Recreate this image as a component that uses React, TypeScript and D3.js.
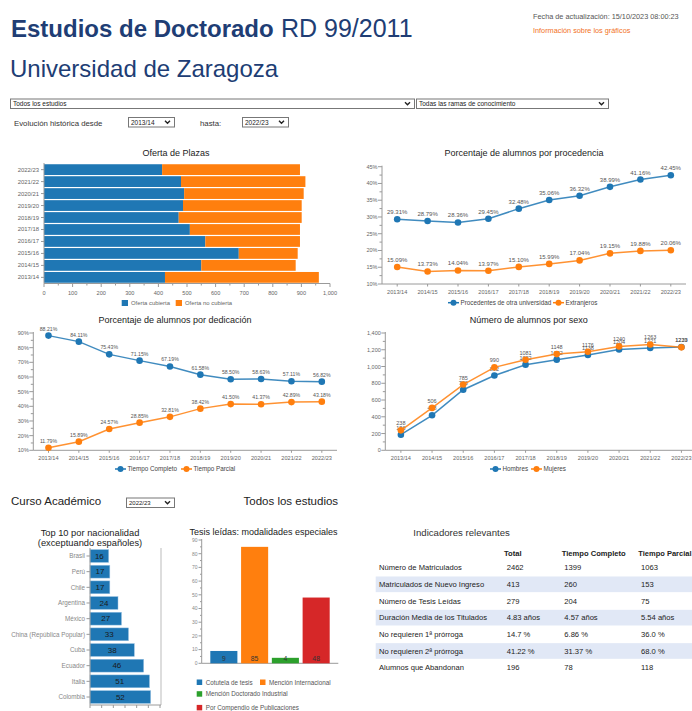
import React from 'react';
import * as d3 from 'd3';

// ---- data ----
const years = ['2013/14', '2014/15', '2015/16', '2016/17', '2017/18', '2018/19', '2019/20', '2020/21', '2021/22', '2022/23'];
const ofertaCubierta = [423, 550, 681, 564, 510, 471, 486, 490, 479, 413];
const ofertaTotal = [961, 880, 887, 895, 895, 901, 901, 908, 914, 895];
const otraUniversidad = [29.31, 28.79, 28.36, 29.45, 32.48, 35.06, 36.32, 38.99, 41.16, 42.45];
const extranjeros = [15.09, 13.73, 14.04, 13.97, 15.1, 15.99, 17.04, 19.15, 19.88, 20.06];
const tiempoCompleto = [88.21, 84.11, 75.43, 71.15, 67.19, 61.58, 58.5, 58.63, 57.11, 56.82];
const tiempoParcial = [11.79, 15.89, 24.57, 28.85, 32.81, 38.42, 41.5, 41.37, 42.89, 43.18];
const hombres = [186, 418, 723, 892, 1022, 1082, 1138, 1204, 1221, 1233];
const mujeres = [238, 506, 785, 990, 1081, 1148, 1176, 1240, 1263, 1229];
const paises = ['Brasil', 'Perú', 'Chile', 'Argentina', 'México', 'China (República Popular)', 'Cuba', 'Ecuador', 'Italia', 'Colombia'];
const paisAlumnos = [16, 17, 17, 24, 27, 33, 38, 46, 51, 52];
const modalidades = ['Cotutela de tesis', 'Mención Internacional', 'Mención Doctorado Industrial', 'Por Compendio de Publicaciones'];
const modalidadTesis = [9, 85, 4, 48];
const indicadores = ['Número de Matriculados', 'Matriculados de Nuevo Ingreso', 'Número de Tesis Leídas', 'Duración Media de los Titulados', 'No requieren 1ª prórroga', 'No requieren 2ª prórroga', 'Alumnos que Abandonan'];
const indTotal = ['2462', '413', '279', '4.83 años', '14.7 %', '41.22 %', '196'];
const indCompleto = ['1399', '260', '204', '4.57 años', '6.86 %', '31.37 %', '78'];
const indParcial = ['1063', '153', '75', '5.54 años', '36.0 %', '68.0 %', '118'];

const FONT = '"Liberation Sans", Arial, Helvetica, sans-serif';
const BLUE = '#1f77b4';
const ORANGE = '#ff7f0e';
const GREEN = '#2ca02c';
const RED = '#d62728';
const AXIS = '#9a9a9a';
const TXT = '#666';
const NAVY = '#203d74';
const tesisColors = [BLUE, ORANGE, GREEN, RED];

function Select({ x, y, w, h, label, fs = 6.5 }) {
  return (
    <g>
      <rect x={x + 0.5} y={y + 0.5} width={w} height={h} fill="#fff" stroke="#777" />
      <text x={x + 3} y={y + h / 2 + fs * 0.36 + 0.5} fontSize={fs} fill="#222">{label}</text>
      <path d={`M${x + w - 9},${y + h / 2 - 1} l2.5,2.5 l2.5,-2.5`} fill="none" stroke="#222" strokeWidth={1.4} />
    </g>
  );
}

function Oferta() {
  const x = d3.scaleLinear().domain([0, 1000]).range([44, 330]);
  const y = d3.scaleBand().domain([...years].reverse()).range([164, 283]).paddingInner(0.1).paddingOuter(0.02);
  return (
    <g>
      <text x={176} y={155.5} fontSize={9} textAnchor="middle" fill="#222">Oferta de Plazas</text>
      {years.map((yr, i) => (
        <g key={yr}>
          <rect x={x(0)} y={y(yr)} width={x(ofertaCubierta[i]) - x(0)} height={y.bandwidth()} fill={BLUE} />
          <rect x={x(ofertaCubierta[i])} y={y(yr)} width={x(ofertaTotal[i]) - x(ofertaCubierta[i])} height={y.bandwidth()} fill={ORANGE} />
          <text x={39} y={y(yr)! + y.bandwidth() / 2 + 2} fontSize={5.9} textAnchor="end" fill={TXT}>{yr}</text>
          <line x1={41} x2={44} y1={y(yr)! + y.bandwidth() / 2} y2={y(yr)! + y.bandwidth() / 2} stroke={AXIS} />
        </g>
      ))}
      <line x1={44} x2={44} y1={163} y2={283.5} stroke={AXIS} />
      <line x1={44} x2={330} y1={283.5} y2={283.5} stroke={AXIS} />
      {d3.range(0, 1001, 50).map((t) => (
        <line key={t} x1={x(t)} x2={x(t)} y1={283.5} y2={t % 100 === 0 ? 287 : 285.5} stroke={AXIS} />
      ))}
      {x.ticks(10).map((t) => (
        <text key={t} x={x(t)} y={294.5} fontSize={5.6} textAnchor="middle" fill={TXT}>{d3.format(',')(t)}</text>
      ))}
      <rect x={121.7} y={300} width={6.3} height={6} fill={BLUE} />
      <text x={131} y={305.3} fontSize={5.9} fill={TXT}>Oferta cubierta</text>
      <rect x={175.7} y={300} width={6.3} height={6} fill={ORANGE} />
      <text x={185} y={305.3} fontSize={5.9} fill={TXT}>Oferta no cubierta</text>
    </g>
  );
}

type Serie = { name: string; values: number[]; color: string };

function LineChart({ left, right, top, bottom, domain, step, minor, yFmt, vFmt, series, title, titleX, titleY, labelFs, legendY, legendX, legendFs }: any) {
  const x = d3.scaleBand().domain(years).range([left, right]);
  const y = d3.scaleLinear().domain(domain).range([bottom, top]);
  const cx = (i: number) => x(years[i])! + x.bandwidth() / 2;
  const line = d3.line<number>().x((_, i) => cx(i)).y((d) => y(d));
  const major = d3.range(domain[0], domain[1] + 1e-6, step);
  const minors = d3.range(domain[0], domain[1] + 1e-6, minor);
  return (
    <g>
      <text x={titleX} y={titleY} fontSize={9} textAnchor="middle" fill="#222">{title}</text>
      <line x1={left} x2={left} y1={top - 1} y2={bottom} stroke={AXIS} />
      <line x1={left} x2={Math.min(right, 692)} y1={bottom} y2={bottom} stroke={AXIS} />
      {minors.map((t) => (
        <line key={'m' + t} x1={left - (major.includes(t) ? 4 : 2.5)} x2={left} y1={y(t)} y2={y(t)} stroke={AXIS} />
      ))}
      {major.map((t) => (
        <text key={t} x={left - 4.5} y={y(t) + 2} fontSize={5.5} textAnchor="end" fill={TXT}>{yFmt(t)}</text>
      ))}
      {years.map((yr, i) => (
        <g key={yr}>
          <line x1={cx(i)} x2={cx(i)} y1={bottom} y2={bottom + 2.5} stroke={AXIS} />
          <text x={cx(i)} y={bottom + 10} fontSize={5.6} textAnchor="middle" fill={TXT}>{yr}</text>
        </g>
      ))}
      {series.map((s: Serie) => (
        <g key={s.name}>
          <path d={line(s.values)!} fill="none" stroke={s.color} strokeWidth={1.5} opacity={0.85} />
          {s.values.map((v, i) => (
            <circle key={i} cx={cx(i)} cy={y(v)} r={3.3} fill={s.color} />
          ))}
          {s.values.map((v, i) => (
            <text key={'l' + i} x={cx(i)} y={y(v) - 5} fontSize={labelFs} textAnchor="middle" fill="#555">{vFmt(v)}</text>
          ))}
        </g>
      ))}
      {series.map((s: Serie, k: number) => (
        <g key={'lg' + s.name}>
          <line x1={legendX[k]} x2={legendX[k] + 11} y1={legendY} y2={legendY} stroke={s.color} strokeWidth={1.5} />
          <circle cx={legendX[k] + 5.5} cy={legendY} r={3} fill={s.color} />
          <text x={legendX[k] + 12.5} y={legendY + 2.2} fontSize={legendFs} fill="#444">{s.name}</text>
        </g>
      ))}
    </g>
  );
}

function Top10() {
  const y = d3.scaleBand().domain(paises).range([548, 705]).paddingInner(0.18).paddingOuter(0.1);
  const x = d3.scaleLinear().domain([0, 60]).range([90, 160]);
  return (
    <g>
      <text x={90} y={535.5} fontSize={9.3} textAnchor="middle" fill="#222">Top 10 por nacionalidad</text>
      <text x={90} y={546} fontSize={9.3} textAnchor="middle" fill="#222">(exceptuando españoles)</text>
      {paises.map((p, i) => (
        <g key={p}>
          <rect x={x(0)} y={y(p)} width={x(paisAlumnos[i]) - x(0)} height={y.bandwidth()} fill={BLUE} stroke="#9cc3e4" strokeWidth={0.5} />
          <text x={(x(0) + x(paisAlumnos[i])) / 2} y={y(p)! + y.bandwidth() / 2 + 2.8} fontSize={8} textAnchor="middle" fill="#1a1a1a">{paisAlumnos[i]}</text>
          <line x1={86.5} x2={90} y1={y(p)! + y.bandwidth() / 2} y2={y(p)! + y.bandwidth() / 2} stroke={AXIS} />
          <text x={85} y={y(p)! + y.bandwidth() / 2 + 2.2} fontSize={6.3} textAnchor="end" fill="#888">{p}</text>
        </g>
      ))}
      <line x1={90} x2={90} y1={548} y2={705} stroke={AXIS} />
      <line x1={161} x2={161} y1={548} y2={705} stroke="#bbb" />
      <line x1={90} x2={161} y1={705} y2={705} stroke={AXIS} />
      {d3.range(0, 61, 10).map((t) => (
        <line key={t} x1={x(t)} x2={x(t)} y1={705} y2={708} stroke={AXIS} />
      ))}
      {d3.range(0, 61, 20).map((t) => (
        <text key={'t' + t} x={x(t)} y={715.5} fontSize={6} textAnchor="middle" fill={TXT}>{t}</text>
      ))}
    </g>
  );
}

function Tesis() {
  const x = d3.scaleBand().domain(modalidades).range([201.7, 338.3]).paddingInner(0.12).paddingOuter(0.28);
  const y = d3.scaleLinear().domain([0, 90]).range([663.3, 540]);
  return (
    <g>
      <text x={263.5} y={535} fontSize={9} textAnchor="middle" fill="#222">Tesis leídas: modalidades especiales</text>
      <line x1={201.7} x2={201.7} y1={539} y2={663.3} stroke={AXIS} />
      <line x1={201.7} x2={338.3} y1={663.3} y2={663.3} stroke={AXIS} />
      {d3.range(0, 91, 5).map((t) => (
        <line key={t} x1={t % 10 === 0 ? 198.5 : 200} x2={201.7} y1={y(t)} y2={y(t)} stroke={AXIS} />
      ))}
      {d3.range(0, 91, 10).map((t) => (
        <text key={'t' + t} x={197.5} y={y(t) + 1.8} fontSize={5} textAnchor="end" fill="#888">{t}</text>
      ))}
      {modalidades.map((m, i) => (
        <g key={m}>
          <rect x={x(m)} y={y(modalidadTesis[i])} width={x.bandwidth()} height={y(0) - y(modalidadTesis[i])} fill={tesisColors[i]} />
          <text x={x(m)! + x.bandwidth() / 2} y={661.3} fontSize={6.8} textAnchor="middle" fill="#333">{modalidadTesis[i]}</text>
        </g>
      ))}
      {modalidades.map((m, i) => {
        const lx = i === 1 ? 260 : 196.7;
        const ly = i < 2 ? 682.3 : i === 2 ? 694 : 707.7;
        return (
          <g key={'lg' + m}>
            <rect x={lx} y={ly - 2.8} width={5.5} height={5.5} fill={tesisColors[i]} />
            <text x={lx + 9} y={ly + 2.2} fontSize={6.3} fill="#555">{m}</text>
          </g>
        );
      })}
    </g>
  );
}

function Indicadores() {
  const y = d3.scaleBand().domain(indicadores).range([559.3, 676]);
  const cols = [506.7, 564.3, 641];
  return (
    <g>
      <text x={413.3} y={535.7} fontSize={9.6} fill="#333">Indicadores relevantes</text>
      <text x={504} y={555.7} fontSize={7.6} fontWeight="bold" fill="#222">Total</text>
      <text x={561.7} y={555.7} fontSize={7.6} fontWeight="bold" fill="#222">Tiempo Completo</text>
      <text x={638.3} y={555.7} fontSize={7.5} fontWeight="bold" fill="#222">Tiempo Parcial</text>
      {indicadores.map((ind, i) => (
        <g key={ind}>
          {i % 2 === 1 && <rect x={375.7} y={y(ind)! + 0.5} width={320} height={y.bandwidth() - 1} fill="#e1e8f6" />}
          <text x={379} y={y(ind)! + y.bandwidth() / 2 + 2.7} fontSize={7.6} fill="#222">{ind}</text>
          <text x={cols[0]} y={y(ind)! + y.bandwidth() / 2 + 2.7} fontSize={7.6} fill="#222">{indTotal[i]}</text>
          <text x={cols[1]} y={y(ind)! + y.bandwidth() / 2 + 2.7} fontSize={7.6} fill="#222">{indCompleto[i]}</text>
          <text x={cols[2]} y={y(ind)! + y.bandwidth() / 2 + 2.7} fontSize={7.6} fill="#222">{indParcial[i]}</text>
        </g>
      ))}
    </g>
  );
}

export default function App() {
  const pct = (v: number) => v.toFixed(2) + '%';
  return (
    <svg width={692} height={711} style={{ position: 'absolute', left: 0, top: 0, background: '#fff' }} fontFamily={FONT}>
      <text x={11} y={37} fontSize={24} fontWeight="bold" fill={NAVY}>Estudios de Doctorado</text>
      <text x={281} y={37} fontSize={25} fill={NAVY}>RD 99/2011</text>
      <text x={10} y={77} fontSize={24} fill={NAVY}>Universidad de Zaragoza</text>
      <text x={533} y={18.5} fontSize={7.3} fill="#555">Fecha de actualización: 15/10/2023 08:00:23</text>
      <text x={533} y={32.5} fontSize={7.3} fill="#f2711c">Información sobre los gráficos</text>

      <Select x={10} y={98.5} w={404} h={9.5} label="Todos los estudios" />
      <Select x={416} y={98.5} w={192} h={9.5} label="Todas las ramas de conocimiento" />
      <text x={14} y={125.5} fontSize={7.8} fill="#333">Evolución histórica desde</text>
      <Select x={128} y={117} w={46} h={9.5} label="2013/14" />
      <text x={200} y={125.5} fontSize={7.8} fill="#333">hasta:</text>
      <Select x={242} y={117} w={46} h={9.5} label="2022/23" />

      <Oferta />
      <LineChart
        left={382} right={686} top={166.7} bottom={284} domain={[10, 45]} step={5} minor={2.5}
        yFmt={(t: number) => t + '%'} vFmt={pct} labelFs={6}
        series={[
          { name: 'Procedentes de otra universidad', values: otraUniversidad, color: BLUE },
          { name: 'Extranjeros', values: extranjeros, color: ORANGE },
        ]}
        title="Porcentaje de alumnos por procedencia" titleX={524} titleY={155.5}
        legendX={[448, 553]} legendY={302.7} legendFs={6.3}
      />
      <LineChart
        left={33.3} right={337} top={333} bottom={450.3} domain={[10, 90]} step={10} minor={5}
        yFmt={(t: number) => t + '%'} vFmt={pct} labelFs={5.2}
        series={[
          { name: 'Tiempo Completo', values: tiempoCompleto, color: BLUE },
          { name: 'Tiempo Parcial', values: tiempoParcial, color: ORANGE },
        ]}
        title="Porcentaje de alumnos por dedicación" titleX={175} titleY={323}
        legendX={[115, 181]} legendY={469} legendFs={6.3}
      />
      <LineChart
        left={385.3} right={697} top={333} bottom={450.3} domain={[0, 1400]} step={200} minor={100}
        yFmt={d3.format(',')} vFmt={(v: number) => String(v)} labelFs={5.5}
        series={[
          { name: 'Hombres', values: hombres, color: BLUE },
          { name: 'Mujeres', values: mujeres, color: ORANGE },
        ]}
        title="Número de alumnos por sexo" titleX={528.7} titleY={323}
        legendX={[490, 531]} legendY={469} legendFs={6.3}
      />

      <text x={11} y={505} fontSize={11.5} fill="#222">Curso Académico</text>
      <Select x={126} y={497.5} w={48} h={9.5} label="2022/23" fs={6} />
      <text x={243.5} y={505} fontSize={11.5} fill="#222">Todos los estudios</text>

      <Top10 />
      <Tesis />
      <Indicadores />
    </svg>
  );
}
